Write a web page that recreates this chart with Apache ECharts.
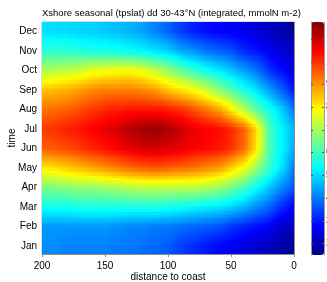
<!DOCTYPE html>
<html>
<head>
<meta charset="utf-8">
<script src="https://cdn.jsdelivr.net/npm/echarts@6/dist/echarts.min.js"></script>
<style>
  html, body { margin: 0; padding: 0; background: #fff; }
  #chart { width: 327px; height: 282px; }
</style>
</head>
<body>
<div id="chart"></div>
<script>
// distance to coast (km), one column per value, left (offshore) to right (coast)
const distances = [200, 190, 180, 170, 160, 150, 140, 130, 120, 110, 100, 90, 80, 70, 60, 50, 40, 30, 20, 10, 0];
const monthNames = ['Jan', 'Feb', 'Mar', 'Apr', 'May', 'Jun', 'Jul', 'Aug', 'Sep', 'Oct', 'Nov', 'Dec'];
const colorbarTicks = [2, 3, 4, 5, 6, 7, 8, 9, 10, 11];

// integrated values (mmolN m-2), one row per month
const jan = [4.2, 4.2, 4.1, 4.1, 4.1, 4.1, 4.0, 4.0, 3.9, 3.8, 3.7, 3.4, 3.2, 3.0, 2.8, 2.7, 2.5, 2.3, 2.1, 1.9, 1.7];
const feb = [4.3, 4.3, 4.3, 4.3, 4.3, 4.3, 4.2, 4.1, 4.1, 4.0, 4.0, 3.9, 3.8, 3.7, 3.6, 3.3, 3.1, 2.9, 2.7, 2.3, 2.1];
const mar = [5.4, 5.5, 5.5, 5.6, 5.6, 5.6, 5.6, 5.6, 5.6, 5.6, 5.5, 5.4, 5.3, 5.2, 5.1, 4.9, 4.6, 4.2, 3.8, 3.2, 2.7];
const apr = [6.6, 6.6, 6.7, 6.8, 6.8, 6.9, 7.0, 7.1, 7.2, 7.2, 7.2, 7.2, 7.2, 7.1, 6.9, 6.5, 6.0, 5.4, 4.8, 4.2, 3.6];
const may = [8.1, 8.2, 8.4, 8.6, 8.8, 9.0, 9.2, 9.4, 9.5, 9.6, 9.5, 9.4, 9.3, 9.1, 8.9, 8.4, 7.8, 6.9, 5.9, 5.1, 4.0];
const jun = [9.5, 9.6, 9.7, 9.9, 10.1, 10.3, 10.5, 10.7, 10.9, 10.9, 10.8, 10.7, 10.5, 10.4, 10.3, 10.0, 9.4, 8.2, 6.1, 5.3, 4.5];
const jul = [9.9, 10.0, 10.2, 10.3, 10.5, 10.7, 10.9, 11.2, 11.4, 11.5, 11.3, 11.0, 10.7, 10.5, 10.4, 10.1, 9.5, 8.3, 6.1, 5.3, 4.6];
const aug = [9.3, 9.4, 9.5, 9.7, 9.9, 10.1, 10.2, 10.3, 10.3, 10.3, 10.2, 10.0, 9.7, 9.3, 8.9, 8.1, 7.2, 6.3, 5.6, 4.9, 4.0];
const sep = [8.5, 8.6, 8.7, 8.9, 9.1, 9.2, 9.2, 9.2, 9.1, 8.9, 8.5, 8.2, 7.9, 7.4, 6.8, 6.2, 5.6, 5.1, 4.4, 3.8, 3.0];
const oct = [7.1, 7.2, 7.3, 7.4, 7.7, 7.8, 7.9, 7.9, 7.7, 7.3, 6.9, 6.4, 5.9, 5.5, 5.2, 4.8, 4.4, 4.0, 3.3, 2.9, 2.5];
const nov = [5.8, 5.8, 5.8, 5.7, 5.6, 5.6, 5.5, 5.4, 5.3, 5.1, 4.9, 4.5, 4.3, 4.0, 3.8, 3.6, 3.2, 3.0, 2.7, 2.4, 2.1];
const dec = [5.1, 5.0, 5.0, 4.9, 4.9, 4.8, 4.7, 4.6, 4.4, 4.1, 3.8, 3.4, 3.1, 2.9, 2.8, 2.7, 2.6, 2.4, 2.2, 2.0, 1.8];

const rows = [jan, feb, mar, apr, may, jun, jul, aug, sep, oct, nov, dec];

const vMin = 1.5, vMax = 11.75;
const jet = ['#00007f', '#0000ff', '#007fff', '#00ffff', '#7fff7f', '#ffff00', '#ff7f00', '#ff0000', '#7f0000'];
const jetRgb = jet.map(h => [1, 3, 5].map(k => parseInt(h.substr(k, 2), 16)));

function colorOf(v) {
  let t = (v - vMin) / (vMax - vMin);
  t = Math.max(0, Math.min(1, t)) * (jet.length - 1);
  const i = Math.min(Math.floor(t), jet.length - 2), f = t - i;
  const a = jetRgb[i], b = jetRgb[i + 1];
  return 'rgb(' + a.map((c, k) => Math.round(c + (b[k] - c) * f)).join(',') + ')';
}

// cells between neighbouring columns / months; the first and last half rows
// repeat Jan and Dec out to the plot edge
const cells = [];
const rowSpans = [[0.5, 1, 0, 0]];
for (let j = 0; j < 11; j++) rowSpans.push([j + 1, j + 2, j, j + 1]);
rowSpans.push([12, 12.5, 11, 11]);
rowSpans.forEach(r => {
  for (let i = 0; i < distances.length - 1; i++) {
    cells.push([distances[i], distances[i + 1], r[0], r[1], i, r[2], r[3]]);
  }
});

function renderCell(params, api) {
  const c = cells[params.dataIndex];
  const p0 = api.coord([c[0], c[2]]);
  const p1 = api.coord([c[1], c[3]]);
  const i = c[4], ja = c[5], jb = c[6];
  const v00 = rows[ja][i], v10 = rows[ja][i + 1], v01 = rows[jb][i], v11 = rows[jb][i + 1];
  const nx = 6, ny = 8;
  const children = [];
  for (let a = 0; a < nx; a++) {
    const xa = Math.round(p0[0] + (p1[0] - p0[0]) * a / nx);
    const xb = Math.round(p0[0] + (p1[0] - p0[0]) * (a + 1) / nx);
    for (let b = 0; b < ny; b++) {
      const ya = Math.round(p0[1] + (p1[1] - p0[1]) * b / ny);
      const yb = Math.round(p0[1] + (p1[1] - p0[1]) * (b + 1) / ny);
      const fx = (a + 0.5) / nx, fy = (b + 0.5) / ny;
      const v = (v00 * (1 - fx) + v10 * fx) * (1 - fy) + (v01 * (1 - fx) + v11 * fx) * fy;
      children.push({
        type: 'rect',
        shape: { x: Math.min(xa, xb), y: Math.min(ya, yb), width: Math.abs(xb - xa), height: Math.abs(yb - ya) },
        style: { fill: colorOf(v) }
      });
    }
  }
  return { type: 'group', children: children };
}

const chart = echarts.init(document.getElementById('chart'));
const axisGray = '#8c8c8c';
const font = 'Liberation Sans';

chart.setOption({
  animation: false,
  textStyle: { fontFamily: font },
  title: {
    text: 'Xshore seasonal (tpslat) dd 30-43°N (integrated, mmolN m-2)',
    left: 42,
    top: 8,
    padding: 0,
    textStyle: { fontSize: 9.5, fontWeight: 'normal', color: '#000', fontFamily: font }
  },
  grid: [
    { left: 42, top: 22, width: 252, height: 232, show: true, borderColor: '#b4b8c8', borderWidth: 1,
      containLabel: false, outerBoundsMode: 'none' },
    { left: 311, top: 22, width: 13, height: 233, containLabel: false, outerBoundsMode: 'none' }
  ],
  xAxis: [
    {
      type: 'value', gridIndex: 0, min: 0, max: 200, interval: 50, inverse: true,
      name: 'distance to coast', nameLocation: 'middle', nameGap: 18, nameMoveOverlap: false,
      nameTextStyle: { fontSize: 10, color: '#000' },
      axisLine: { lineStyle: { color: axisGray } },
      axisTick: { length: 3, lineStyle: { color: axisGray } },
      axisLabel: { fontSize: 10, color: '#000', margin: 7 },
      splitLine: { show: false }
    },
    { type: 'value', gridIndex: 1, show: false, min: 0, max: 1 }
  ],
  yAxis: [
    {
      type: 'value', gridIndex: 0, min: 0.6, max: 12.5,
      name: 'time', nameLocation: 'middle', nameGap: 25, nameMoveOverlap: false,
      nameTextStyle: { fontSize: 10, color: '#000' },
      axisLine: { show: true, lineStyle: { color: axisGray } },
      axisTick: { show: true, length: 3, customValues: [1, 2, 3, 4, 5, 6, 7, 8, 9, 10, 11, 12], lineStyle: { color: axisGray } },
      axisLabel: {
        fontSize: 10, color: '#000', margin: 5,
        customValues: [1, 2, 3, 4, 5, 6, 7, 8, 9, 10, 11, 12],
        formatter: v => monthNames[Math.round(v) - 1]
      },
      splitLine: { show: false }
    },
    {
      type: 'value', gridIndex: 1, position: 'left', min: vMin, max: vMax, z: 10,
      axisLine: { show: true, lineStyle: { color: '#999' } },
      axisTick: { show: true, inside: true, length: 2, customValues: colorbarTicks, lineStyle: { color: '#555' } },
      axisLabel: { show: false },
      splitLine: { show: false }
    },
    {
      type: 'value', gridIndex: 1, position: 'right', min: vMin, max: vMax, z: 10,
      axisLine: { show: true, lineStyle: { color: '#999' } },
      axisTick: { show: true, inside: true, length: 2, customValues: colorbarTicks, lineStyle: { color: '#555' } },
      axisLabel: { show: true, fontSize: 10, color: '#000', margin: 2, customValues: colorbarTicks },
      splitLine: { show: false }
    }
  ],
  visualMap: {
    type: 'continuous',
    min: vMin, max: vMax,
    seriesIndex: [],
    calculable: false,
    left: 311, top: 22, padding: 0,
    itemWidth: 13, itemHeight: 233,
    inRange: { color: jet },
    text: ['', ''],
    hoverLink: false
  },
  series: [
    {
      type: 'custom',
      xAxisIndex: 0, yAxisIndex: 0,
      silent: true,
      clip: true,
      renderItem: renderCell,
      encode: { x: [0, 1], y: [2, 3] },
      data: cells
    }
  ]
});
</script>
</body>
</html>
